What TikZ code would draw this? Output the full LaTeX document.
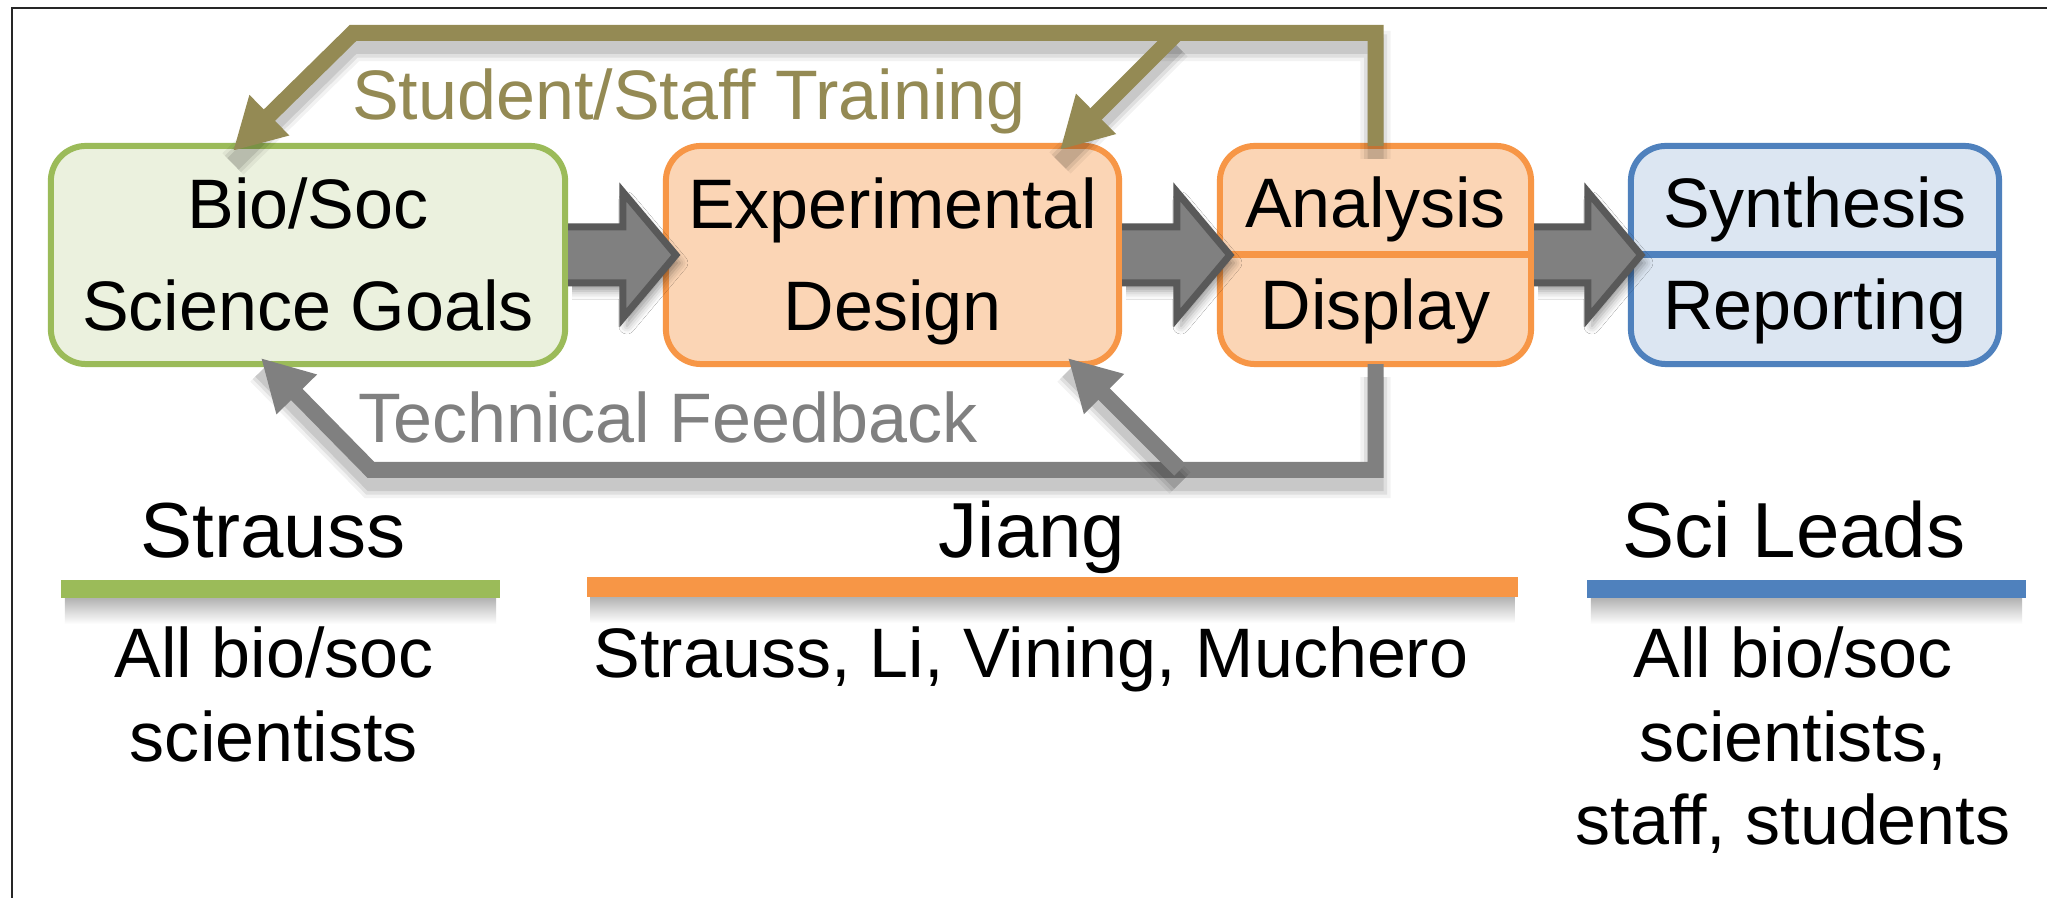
\documentclass[tikz,border=0pt]{standalone}
\usepackage{fontspec}
\setmainfont{Liberation Sans}
\usetikzlibrary{arrows.meta,shadows.blur,calc}
\definecolor{cGreenFill}{HTML}{EBF1DE}
\definecolor{cGreen}{HTML}{9BBB59}
\definecolor{cOrangeFill}{HTML}{FBD5B5}
\definecolor{cOrange}{HTML}{F79646}
\definecolor{cBlueFill}{HTML}{DCE6F2}
\definecolor{cBlue}{HTML}{4F81BD}
\definecolor{cGray}{HTML}{808080}
\definecolor{cDarkGray}{HTML}{595959}
\definecolor{cOlive}{HTML}{948A54}
\newcommand\myBody{\fontsize{19.92}{24}\selectfont}
\newcommand\myHead{\fontsize{22.2}{26}\selectfont}
\newcommand\blockarrow[2]{%
  \draw[blockarr] ($(#1.east)+(3,-28)$) -- ($(#2.west)+(-43,-28)$) -- ($(#2.west)+(-43,-63)$) -- ($(#2.west)+(10,0)$) -- ($(#2.west)+(-43,63)$) -- ($(#2.west)+(-43,28)$) -- ($(#1.east)+(3,28)$);}
\newcommand\barshadow[1]{%
  \shade[top color=black!30, bottom color=white] ($(#1.south west)+(4,0)$) rectangle ($(#1.south east)+(-4,26)$);}
\begin{document}
\begin{tikzpicture}[x=0.01cm,y=-0.01cm,
  box/.style={draw, line width=0.06cm, rounded corners=0.35cm, minimum height=2.18cm, inner sep=0pt, outer sep=0pt},
  txt/.style={anchor=base, inner sep=0pt, outer sep=0pt, font=\myBody},
  hd/.style={anchor=base, inner sep=0pt, outer sep=0pt, font=\myHead},
  bar/.style={inner sep=0pt, outer sep=0pt, minimum height=0.18cm},
  blockarr/.style={fill=cGray, draw=cDarkGray, line width=0.07cm, line join=miter, blur shadow={shadow xshift=0.04cm, shadow yshift=-0.08cm, shadow blur radius=0.08cm, shadow opacity=40}},
  fline/.style={line width=0.16cm, line join=miter, -{Triangle[length=0.51cm,width=0.53cm]}},
  lshadow/.style={
    preaction={draw=black, draw opacity=0.05, line width=0.30cm, transform canvas={yshift=-0.13cm}, arrows=-},
    preaction={draw=black, draw opacity=0.08, line width=0.23cm, transform canvas={yshift=-0.13cm}, arrows=-},
    preaction={draw=black, draw opacity=0.10, line width=0.16cm, transform canvas={yshift=-0.13cm}, arrows=-}}
]
\useasboundingbox (0,0) rectangle (2047,898);
\clip (0,0) rectangle (2047,898);
\fill[white] (0,0) rectangle (2047,898);
% frame
\draw[black!85, line width=0.025cm] (12,905) -- (12,8) -- (2060,8);

% boxes
\node[box, fill=cGreenFill, draw=cGreen, minimum width=5.14cm] (goals) at (308,255) {};
\node[box, fill=cOrangeFill, draw=cOrange, minimum width=4.53cm] (design) at (892.5,255) {};
\node[box, fill=cOrangeFill, draw=cOrange, minimum width=3.11cm] (anadisp) at (1375.5,255) {};
\node[box, fill=cBlueFill, draw=cBlue, minimum width=3.68cm] (synrep) at (1815,255) {};
\draw[cOrange, line width=0.07cm] (anadisp.west) -- (anadisp.east);
\draw[cBlue, line width=0.07cm] (synrep.west) -- (synrep.east);

% block arrows
\blockarrow{goals}{design}
\blockarrow{design}{anadisp}
\blockarrow{anadisp}{synrep}

% training lines
\coordinate (trL) at (353,33);
\coordinate (trB) at (1177,33);
\coordinate (tipG) at ($(goals.north)+(-75,5)$);
\coordinate (tipD) at ($(design.north)+(167.5,4)$);
\draw[fline, lshadow, cOlive] (anadisp.north) |- (trL) -- (tipG);
\draw[fline, lshadow, cOlive] (trB) -- (tipD);

% feedback lines
\coordinate (fbL) at (371,470);
\coordinate (fbB) at (1180,470);
\coordinate (tipG2) at ($(goals.south)+(-47,-6)$);
\coordinate (tipD2) at ($(design.south)+(175.5,-6)$);
\draw[fline, lshadow, cGray] (anadisp.south) |- (fbL) -- (tipG2);
\draw[fline, lshadow, cGray] (fbB) -- (tipD2);

% box texts
\node[txt] (g1) at (308,229) {Bio/Soc};
\node[txt] (g2) at (308,331) {Science Goals};
\node[txt] (d1) at (892.5,229) {Experimental};
\node[txt] (d2) at (892.5,331) {Design};
\node[txt] (a1) at (1375.5,228) {Analysis};
\node[txt] (a2) at (1375.5,330) {Display};
\node[txt] (s1) at (1815,228) {Synthesis};
\node[txt] (s2) at (1815,330) {Reporting};

% loop labels
\node[txt, text=cOlive] (lt) at (689,120) {Student/Staff Training};
\node[txt, text=cGray] (lf) at (668,443) {Technical Feedback};

% headings
\node[hd] (h1) at (273,558) {Strauss};
\node[hd] (h2) at (1032,558) {Jiang};
\node[hd] (h3) at (1794,558) {Sci Leads};

% bars
\path node[bar, minimum width=4.39cm] (b1) at (280.5,589) {}
      node[bar, minimum width=9.31cm, minimum height=0.2cm] (b2) at (1052.5,587) {}
      node[bar, minimum width=4.39cm] (b3) at (1806.5,589) {};
\barshadow{b1}
\barshadow{b2}
\barshadow{b3}
\fill[cGreen] (b1.north west) rectangle (b1.south east);
\fill[cOrange] (b2.north west) rectangle (b2.south east);
\fill[cBlue] (b3.north west) rectangle (b3.south east);

% lower texts
\node[txt] (l1) at (274,678) {All bio/soc};
\node[txt] (l2) at (274,762) {scientists};
\node[txt] (m1) at (1031,678) {Strauss, Li, Vining, Muchero};
\node[txt] (r1) at (1793,678) {All bio/soc};
\node[txt] (r2) at (1793,762) {scientists,};
\node[txt] (r3) at (1793,845) {staff, students};
\end{tikzpicture}
\end{document}
